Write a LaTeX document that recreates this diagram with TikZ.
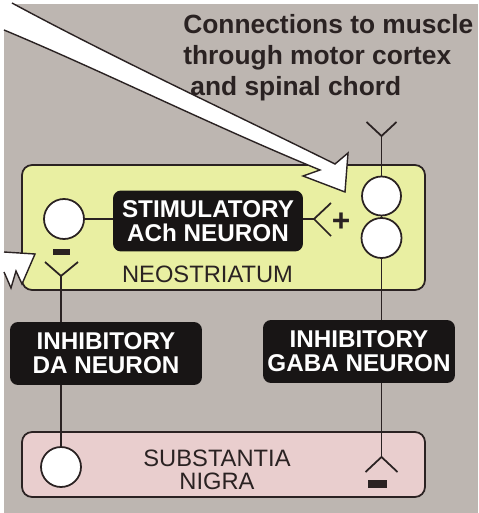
\documentclass[tikz,border=0pt]{standalone}
\usepackage{fontspec}
\setmainfont{Liberation Sans}
\usepackage{tikz}

\definecolor{bggray}{RGB}{189,182,177}
\definecolor{neoyellow}{RGB}{233,239,162}
\definecolor{nigrapink}{RGB}{233,206,206}
\definecolor{edgedark}{RGB}{42,34,34}
\definecolor{boxblack}{RGB}{24,21,21}

\tikzset{
  region/.style={draw=edgedark, line width=1pt, rounded corners=0.2cm, minimum width=8.06cm, inner sep=0pt},
  regionname/.style={font=\fontsize{13.5}{13}\selectfont, text=edgedark, align=center, inner sep=0pt},
  cellbox/.style={fill=boxblack, text=white, rounded corners=0.16cm, font=\fontsize{13.8}{13.8}\selectfont\bfseries, align=center, minimum width=3.84cm, minimum height=1.26cm, inner sep=0pt},
  soma/.style={circle, draw=edgedark, fill=white, line width=1pt, minimum size=0.8cm, inner sep=0pt},
  signbar/.style={fill=edgedark, inner sep=0pt},
  axon/.style={draw=edgedark, line width=1pt},
}

\begin{document}
\begin{tikzpicture}[x=0.02cm, y=-0.02cm]
\useasboundingbox (0,0) rectangle (478,513);

% Background
\fill[bggray] (4,4) rectangle (478,513);

% Regions
\node[region, fill=neoyellow, minimum height=2.5cm] (neo) at (223.5,227.5) {};
\node[region, fill=nigrapink, minimum height=1.3cm] (nigra) at (223.5,464.5) {};
\node[regionname] (neoname) at (207.5,274) {NEOSTRIATUM};
\node[regionname] (nigraname) at (217,470) {SUBSTANTIA\\NIGRA};

% Neurons
\node[cellbox, minimum width=3.8cm, minimum height=1.22cm] (ach) at (208,221) {STIMULATORY\\ACh NEURON};
\node[cellbox] (da) at (106,353.5) {INHIBITORY\\DA NEURON};
\node[cellbox] (gaba) at (359,351.5) {INHIBITORY\\GABA NEURON};

% Cell bodies
\node[soma] (achsoma) at (64,219) {};
\node[soma, minimum size=0.78cm] (gabaup) at (381.5,196) {};
\node[soma] (gabalow) at (381.5,238) {};
\node[soma] (dasoma) at (61,467) {};

% Synapse points
\coordinate (gabatop) at (381.5,136);
\coordinate (achfork) at (314,219);
\coordinate (dafork) at (61,276);
\coordinate (gabaend) at (381.5,457);

% Axons
\draw[axon] (gabatop) -- (gabaup);
\draw[axon] (gabaup) -- (gabalow);
\draw[axon] (gabalow) -- (gabalow |- gaba.north);
\draw[axon] (gabalow |- gaba.south) -- (gabaend);
\draw[axon] (achsoma) -- (achsoma -| ach.west);
\draw[axon] (ach.east |- achfork) -- (achfork);
\draw[axon] (dafork) -- (dafork |- da.north);
\draw[axon] (dafork |- da.south) -- (dasoma);

% Synapse forks
\draw[axon] (gabatop) -- +(-15,-14) (gabatop) -- +(15,-14);
\draw[axon] (achfork) -- +(17,-16) (achfork) -- +(17,17);
\draw[axon] (dafork) -- +(-16,-14) (dafork) -- +(17,-14);
\draw[axon] (gabaend) -- +(-16,15) (gabaend) -- +(16,15);

% Signs
\node[font=\fontsize{18}{18}\selectfont\bfseries, text=edgedark, inner sep=0pt] (plus) at (341,222) {+};
\node[signbar, minimum width=0.34cm, minimum height=0.12cm] (minusup) at (61.5,252) {};
\node[signbar, minimum width=0.38cm, minimum height=0.16cm] (minusdown) at (377.5,484) {};

% Title
\node[anchor=north west, align=left, inner sep=0pt, font=\fontsize{15}{17.6}\selectfont\bfseries, text=edgedark] (title) at (183,14)
  {Connections to muscle\\through motor cortex\\\hspace*{4pt}and spinal chord};

% Input arrows
\fill[white] (12,3) .. controls (110,56) and (230,112) .. (335,164) -- (348,153) -- (345,192) -- (303,176) -- (320,170)
  .. controls (213,126) and (100,70) .. (4,30) -- (4,4) -- cycle;
\draw[edgedark, line width=0.8pt] (12,3) .. controls (110,56) and (230,112) .. (335,164) -- (348,153) -- (345,192) -- (303,176) -- (320,170)
  .. controls (213,126) and (100,70) .. (4,30);
\fill[white] (4,252) -- (35,254) -- (22,284) -- (16,271) -- (11,288) -- (4,272) -- cycle;
\draw[edgedark, line width=0.8pt] (4,252) -- (35,254) -- (22,284) -- (16,271) -- (11,288) -- (4,272);

\end{tikzpicture}
\end{document}
